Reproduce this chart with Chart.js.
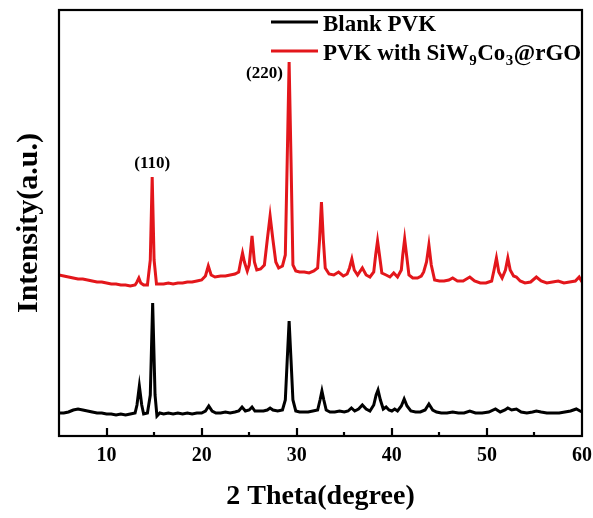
<!DOCTYPE html>
<html>
<head>
<meta charset="utf-8">
<script src="https://cdn.jsdelivr.net/npm/chart.js@4/dist/chart.umd.min.js"></script>
<style>
  html, body { margin: 0; padding: 0; background: #ffffff; }
  #wrap { width: 593px; height: 518px; }
</style>
</head>
<body>
<div id="wrap"><canvas id="c" width="593" height="518"></canvas></div>
<script>
// ---------- data (2θ in degrees, intensity in arbitrary units) ----------
const seriesLabels = ['Blank PVK', 'PVK with SiW₉Co₃@rGO'];
const seriesColors = ['#000000', '#e3161b'];

const blankX = [5.0,5.5,6.0,6.5,7.0,7.5,8.0,8.5,9.0,9.5,10.0,10.5,11.0,11.5,12.0,12.5,13.0,13.2,13.45,13.7,13.9,14.3,14.6,14.85,15.1,15.3,15.6,16.0,16.5,17.0,17.5,18.0,18.5,19.0,19.5,20.0,20.4,20.75,21.1,21.5,22.0,22.5,23.0,23.5,23.9,24.25,24.6,25.0,25.3,25.6,26.0,26.5,26.9,27.2,27.5,28.0,28.5,28.8,29.0,29.2,29.4,29.6,29.9,30.3,30.8,31.2,31.7,32.2,32.45,32.65,32.85,33.1,33.5,34.0,34.5,35.0,35.4,35.75,36.1,36.5,36.9,37.3,37.7,38.1,38.35,38.55,38.8,39.1,39.4,39.7,40.0,40.3,40.6,41.0,41.3,41.6,42.0,42.5,43.0,43.5,43.9,44.3,44.7,45.2,45.8,46.4,47.0,47.6,48.2,48.8,49.5,50.2,50.9,51.4,51.9,52.2,52.6,53.1,53.6,54.2,54.8,55.2,55.7,56.3,57.0,57.6,58.2,58.8,59.4,59.8,60.0];
const blankY = [23,23,24,26,27,26,25,24,23,23,22,22,21,22,21,22,23,31,50,31,22,23,41,133,41,20,23,22,23,22,23,22,23,22,23,23,25,30,25,23,23,24,23,24,25,29,25,26,29,25,25,25,26,28,26,25,26,36,76,115,76,36,25,24,24,24,25,26,36,45,36,26,24,24,25,24,25,28,25,27,31,27,25,31,41,46,36,27,29,26,25,27,25,30,37,30,25,24,24,26,32,26,24,23,23,24,23,23,25,23,23,24,27,24,26,28,26,27,24,23,24,25,24,23,23,23,24,25,27,25,24];

const compX = [5.0,5.5,6.0,6.5,7.0,7.5,8.0,8.5,9.0,9.5,10.0,10.5,11.0,11.5,12.0,12.5,13.0,13.2,13.4,13.6,13.9,14.3,14.6,14.8,15.0,15.25,15.6,16.0,16.5,17.0,17.5,18.0,18.5,19.0,19.5,20.0,20.4,20.7,21.0,21.4,22.0,22.5,23.0,23.5,23.9,24.1,24.3,24.5,24.8,25.0,25.3,25.55,25.8,26.2,26.6,26.9,27.2,27.5,27.8,28.1,28.5,28.8,29.0,29.2,29.4,29.6,29.9,30.3,30.8,31.3,31.8,32.2,32.4,32.6,32.8,33.0,33.4,33.9,34.4,34.9,35.3,35.55,35.8,36.05,36.4,36.9,37.3,37.7,38.1,38.3,38.5,38.7,38.95,39.4,39.8,40.2,40.6,41.0,41.15,41.35,41.55,41.8,42.2,42.7,43.1,43.35,43.65,43.9,44.15,44.5,45.0,45.5,46.0,46.4,46.9,47.5,48.2,48.7,49.3,49.9,50.5,50.75,51.0,51.25,51.6,51.95,52.2,52.45,52.8,53.1,53.5,54.0,54.6,55.2,55.7,56.3,56.9,57.5,58.1,58.7,59.3,59.7,60.0];
const compY = [161,160,159,158,157,157,156,155,154,154,153,152,152,151,151,150,151,154,158,153,151,151,176,259,176,152,152,152,153,152,153,153,154,154,155,156,160,170,161,159,160,160,161,162,164,174,183,174,165,171,200,174,166,167,171,196,220,196,174,168,170,181,276,374,276,171,165,164,164,163,165,168,196,234,196,168,162,161,164,160,162,168,177,166,161,168,161,159,164,181,195,181,163,161,159,163,159,166,181,197,181,161,158,158,160,164,174,191,171,156,155,155,156,158,155,155,159,155,153,153,155,166,178,164,158,166,178,166,160,159,155,153,154,159,155,153,154,155,153,154,155,159,154];

const xMin = 5, xMax = 60, xStep = 5;
const majorTicks = [10, 20, 30, 40, 50, 60];
const yMin = 0, yMax = 426;

const peakLabels = ['(110)', '(220)'];
const peakLabelX = [14.8, 26.6];
const peakLabelY = [272, 362];

// ---------- helpers ----------
const SERIF = '"Liberation Serif", "Times New Roman", serif';
const subMap = {'₀':'0','₁':'1','₂':'2','₃':'3','₄':'4','₅':'5','₆':'6','₇':'7','₈':'8','₉':'9'};

function drawRichText(ctx, text, x, y, size) {
  let cx = x;
  let buf = '';
  const flush = () => {
    if (!buf) return;
    ctx.font = 'bold ' + size + 'px ' + SERIF;
    ctx.fillText(buf, cx, y);
    cx += ctx.measureText(buf).width;
    buf = '';
  };
  for (const ch of text) {
    if (subMap[ch]) {
      flush();
      const s = Math.round(size * 0.66);
      ctx.font = 'bold ' + s + 'px ' + SERIF;
      ctx.fillText(subMap[ch], cx + 0.5, y + size * 0.22);
      cx += ctx.measureText(subMap[ch]).width + 1;
    } else {
      buf += ch;
    }
  }
  flush();
}

const framePlugin = {
  id: 'framePlugin',
  afterDatasetsDraw(chart) {
    const {ctx, chartArea: a, scales} = chart;
    ctx.save();
    ctx.strokeStyle = '#000';
    ctx.lineWidth = 2.2;
    ctx.strokeRect(a.left, a.top, a.right - a.left, a.bottom - a.top);
    // inward ticks on the bottom axis
    const xs = scales.x;
    xs.ticks.forEach(t => {
      if (t.value <= xMin || t.value >= xMax) return;
      const px = Math.round(xs.getPixelForValue(t.value));
      const len = majorTicks.includes(t.value) ? 8 : 4;
      ctx.beginPath();
      ctx.moveTo(px, a.bottom);
      ctx.lineTo(px, a.bottom - len);
      ctx.stroke();
    });
    // peak annotations
    ctx.fillStyle = '#000';
    ctx.textAlign = 'center';
    ctx.textBaseline = 'middle';
    ctx.font = 'bold 17px ' + SERIF;
    peakLabels.forEach((lab, i) => {
      ctx.fillText(lab, xs.getPixelForValue(peakLabelX[i]), scales.y.getPixelForValue(peakLabelY[i]));
    });
    // legend
    ctx.textAlign = 'left';
    ctx.textBaseline = 'alphabetic';
    const lineY = [22, 51];
    chart.data.datasets.forEach((ds, i) => {
      ctx.strokeStyle = ds.borderColor;
      ctx.lineWidth = 3;
      ctx.beginPath();
      ctx.moveTo(271, lineY[i]);
      ctx.lineTo(318, lineY[i]);
      ctx.stroke();
      ctx.fillStyle = '#000';
      drawRichText(ctx, ds.label, 323, lineY[i] + 9, 23);
    });
    ctx.restore();
  }
};

const toPoints = (xs, ys) => xs.map((x, i) => ({x: x, y: ys[i]}));

new Chart(document.getElementById('c'), {
  type: 'line',
  data: {
    datasets: [
      { label: seriesLabels[0], data: toPoints(blankX, blankY), borderColor: seriesColors[0], borderWidth: 3, pointRadius: 0, tension: 0, fill: false },
      { label: seriesLabels[1], data: toPoints(compX, compY), borderColor: seriesColors[1], borderWidth: 3, pointRadius: 0, tension: 0, fill: false }
    ]
  },
  options: {
    responsive: false,
    animation: false,
    layout: { padding: { top: 10, right: 11, left: 0, bottom: 0 } },
    plugins: { legend: { display: false }, tooltip: { enabled: false } },
    scales: {
      x: {
        type: 'linear', min: xMin, max: xMax,
        grid: { display: false, drawTicks: false },
        border: { display: false },
        ticks: {
          stepSize: xStep, padding: 8, color: '#000', maxRotation: 0, autoSkip: false,
          font: { family: SERIF, size: 20, weight: 'bold' },
          callback: v => majorTicks.includes(v) ? String(v) : ''
        },
        title: { display: true, text: '2 Theta(degree)', color: '#000', padding: { top: 4, bottom: 4 },
                 font: { family: SERIF, size: 28, weight: 'bold' } },
        afterFit: s => { s.height = 82; s.paddingLeft = 0; s.paddingRight = 0; }
      },
      y: {
        min: yMin, max: yMax,
        grid: { display: false, drawTicks: false },
        border: { display: false },
        ticks: { display: false },
        title: { display: true, text: 'Intensity(a.u.)', color: '#000', padding: { top: 11, bottom: 0 },
                 font: { family: SERIF, size: 30, weight: 'bold' } },
        afterFit: s => { s.width = 59; s.paddingTop = 0; s.paddingBottom = 0; }
      }
    }
  },
  plugins: [framePlugin]
});
</script>
</body>
</html>
